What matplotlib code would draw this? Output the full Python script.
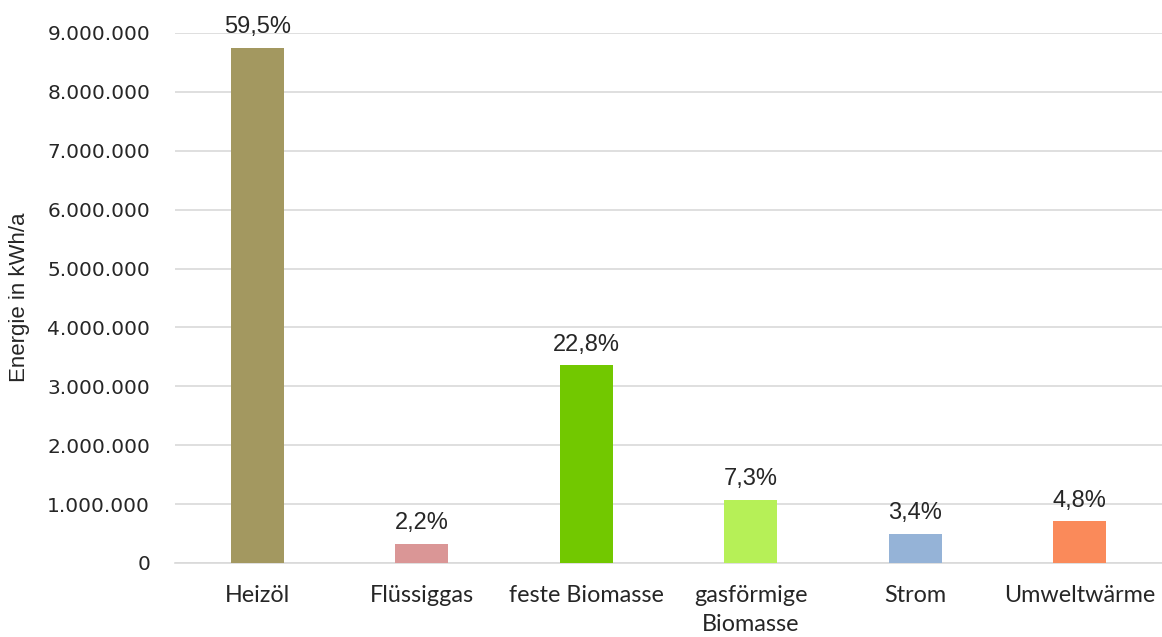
import matplotlib
matplotlib.use("Agg")
import matplotlib.pyplot as plt
from matplotlib.ticker import FuncFormatter

categories = ["Heizöl", "Flüssiggas", "feste Biomasse", "gasförmige\nBiomasse", "Strom", "Umweltwärme"]
values = [8750000, 325000, 3355000, 1075000, 500000, 705000]
shares = ["59,5%", "2,2%", "22,8%", "7,3%", "3,4%", "4,8%"]
colors = ["#A39860", "#DA9696", "#72C800", "#B6F057", "#95B3D7", "#FA8A5A"]
yticks = [0, 1000000, 2000000, 3000000, 4000000, 5000000, 6000000, 7000000, 8000000, 9000000]

fig = plt.figure(figsize=(11.62, 6.37), dpi=100)
ax = fig.add_axes([175/1162, 74/637, 987/1162, 530/637])

x = list(range(len(categories)))
bars = ax.bar(x, values, width=0.32, color=colors, zorder=3)
ax.set_xlim(-0.5, len(categories) - 0.5)
ax.set_ylim(0, 9000000)
ax.set_yticks(yticks)
ax.yaxis.set_major_formatter(FuncFormatter(lambda v, p: f"{int(v):,}".replace(",", ".")))
ax.grid(axis="y", color="#D9D9D9", linewidth=1.2, zorder=0)
for s in ["top", "right", "left"]:
    ax.spines[s].set_visible(False)
ax.spines["bottom"].set_color("#D9D9D9")
ax.spines["bottom"].set_linewidth(1.2)
ax.tick_params(axis="both", length=0)
ax.tick_params(axis="y", pad=18, labelsize=14.5, labelcolor="#262626")
ax.set_xticks(x)
ax.set_xticklabels(categories, fontsize=16.8, family="Lato", color="#262626", linespacing=1.45)
ax.tick_params(axis="x", pad=16)
for lab in ax.get_yticklabels():
    lab.set_family("DejaVu Sans")

for xi, v, s in zip(x, values, shares):
    ax.annotate(s, (xi, v), xytext=(0, 7), textcoords="offset points",
                ha="center", va="bottom", fontsize=17, family="Liberation Sans",
                color="#262626", annotation_clip=False)

fig.text(20/1162, 1 - 297/637, "Energie in kWh/a", rotation=90, ha="center", va="center",
         fontsize=16, family="Liberation Sans", color="#262626")

fig.savefig("out.png", dpi=100)
